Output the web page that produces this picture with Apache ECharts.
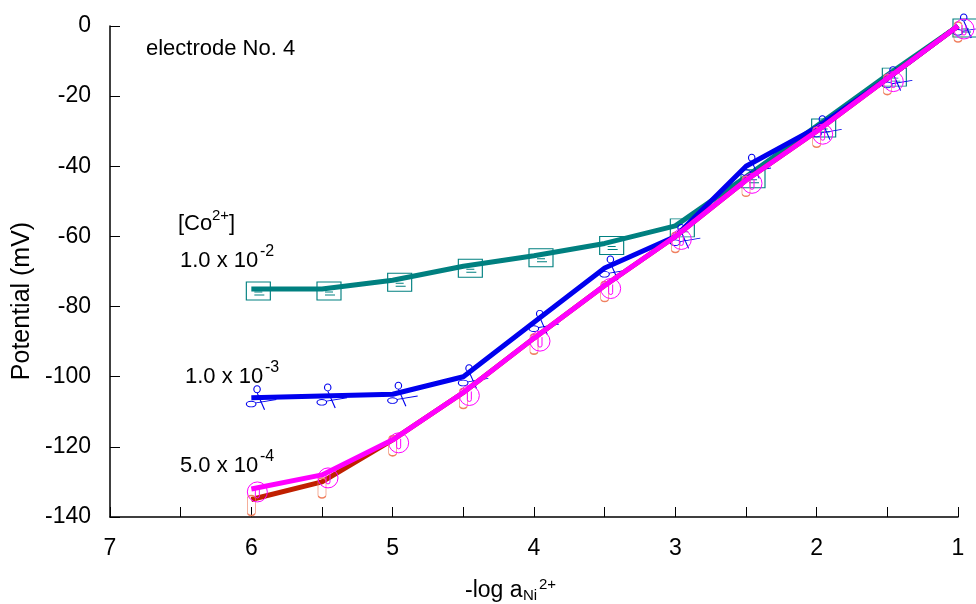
<!DOCTYPE html>
<html>
<head>
<meta charset="utf-8">
<script src="https://cdn.jsdelivr.net/npm/echarts@6/dist/echarts.min.js"></script>
<style>
  html, body { margin: 0; padding: 0; background: #fff; }
  #main { width: 976px; height: 604px; }
</style>
</head>
<body>
<div id="main"></div>
<script>
// -log a(Ni2+) values
var xVals = [6, 5.5, 5, 4.5, 4, 3.5, 3, 2.5, 2, 1.5, 1];
// potential (mV) for each [Co2+]
var co1e2 = [-75, -75, -72.5, -68.5, -65.5, -62, -57, -43, -28.5, -14, 0];
var co1e3 = [-106, -105.5, -105, -100, -84.5, -69, -60, -40, -29, -15, 0];
var co5e4a = [-135, -130, -118, -104.5, -89, -74, -60, -44, -30, -15, 0];
var co5e4b = [-132, -128, -118, -104.5, -89, -74, -60, -44, -30, -15, 0];
var xTicks = [7, 6, 5, 4, 3, 2, 1];

var FONT = 'Liberation Sans, Arial, Helvetica, sans-serif';

function pairs(ys) {
    return xVals.map(function (x, i) { return [x, ys[i]]; });
}

// marker glyphs
var boxSym = 'path://M0,0 L24,0 L24,18 L0,18 Z M8,10 L16,10 M8,13 L18,13';
var scissorSym = 'path://M8,4 a3,3 0 1,0 6,0 a3,3 0 1,0 -6,0 M11,7 L18,22 M1,17 a4.5,2.5 0 1,0 9,0 a4.5,2.5 0 1,0 -9,0 M10,16 L29,13';
var circSym = 'path://M0,10 a10,10 0 1,0 20,0 a10,10 0 1,0 -20,0 M8,6 L8,14 a2,2 0 0,0 4,0 L12,6';
var pillSym = 'path://M0,3 a4,3 0 0,1 8,0 L8,17 a4,3 0 0,1 -8,0 Z';

function mkSeries(ys, color, sym, size, offset, z) {
    return {
        type: 'line',
        data: pairs(ys),
        z: z,
        symbol: sym,
        symbolSize: size,
        symbolOffset: offset,
        lineStyle: {color: color, width: 5},
        itemStyle: {color: 'rgba(0,0,0,0)', borderColor: color, borderWidth: 1},
        emphasis: {disabled: true},
        animation: false
    };
}

var myChart = echarts.init(document.getElementById('main'));

function txt(x, y, s, size) {
    return {
        type: 'text', left: x, top: y,
        style: {text: s, fontSize: size, fontFamily: FONT, fill: '#000'}
    };
}

option = {
    backgroundColor: '#fff',
    grid: {left: 110, right: 18, top: 26, bottom: 87},
    xAxis: {
        type: 'value',
        inverse: true,
        min: 1,
        max: 7,
        interval: 0.5,
        axisLine: {onZero: false, lineStyle: {color: '#000', width: 1.5}},
        axisTick: {inside: true, length: 10, lineStyle: {color: '#000'}},
        splitLine: {show: false},
        axisLabel: {
            margin: 20,
            fontSize: 23,
            fontFamily: FONT,
            color: '#000',
            formatter: function (v) {
                return xTicks.indexOf(v) >= 0 ? String(v) : '';
            }
        }
    },
    yAxis: {
        type: 'value',
        min: -140,
        max: 0,
        interval: 20,
        axisLine: {show: true, onZero: false, lineStyle: {color: '#000', width: 1.5}},
        axisTick: {show: true, inside: true, length: 10, lineStyle: {color: '#000'}},
        splitLine: {show: false},
        axisLabel: {margin: 19, fontSize: 23, fontFamily: FONT, color: '#000'}
    },
    graphic: [
        txt(146, 38, 'electrode No. 4', 22),
        txt(178, 213, '[Co', 22),
        txt(212, 208, '2+', 15),
        txt(229, 213, ']', 22),
        txt(180, 250, '1.0 x 10', 22),
        txt(260, 244, '-2', 16),
        txt(185, 366, '1.0 x 10', 22),
        txt(265, 360, '-3', 16),
        txt(180, 455, '5.0 x 10', 22),
        txt(260, 449, '-4', 16),
        {
            type: 'text', rotation: Math.PI / 2,
            x: 22, y: 301,
            style: {text: 'Potential (mV)', fontSize: 25, fontFamily: FONT, fill: '#000', align: 'center', verticalAlign: 'middle'}
        },
        txt(465, 579, '-log a', 23),
        txt(523, 588, 'Ni', 15),
        txt(539, 577, '2+', 15)
    ],
    series: [
        mkSeries(co1e2, '#008080', boxSym, [24, 18], [7, 2], 2),
        mkSeries(co1e3, '#0000ee', scissorSym, [30, 24], [10, 0], 3),
        mkSeries(co5e4a, '#c02000', pillSym, [8, 20], [0, 6], 4),
        mkSeries(co5e4b, '#ff00ff', circSym, [20, 20], [6, 3], 5)
    ]
};

// 红色 series 的 marker 用浅红色
option.series[2].itemStyle.borderColor = '#f08060';

myChart.setOption(option);
</script>
</body>
</html>
